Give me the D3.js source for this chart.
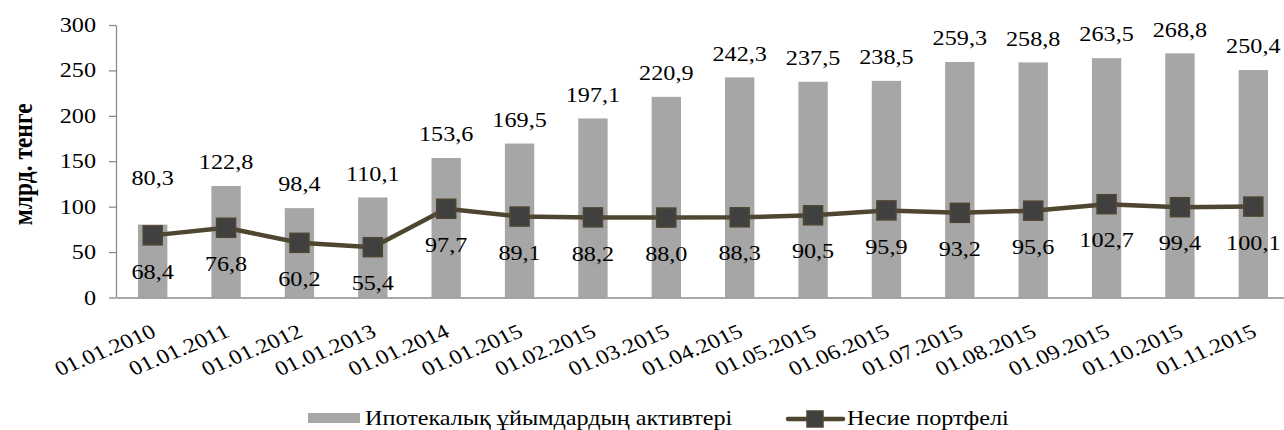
<!DOCTYPE html>
<html>
<head>
<meta charset="utf-8">
<script src="https://cdn.jsdelivr.net/npm/d3@7"></script>
</head>
<body style="margin:0; background:#fff">
<svg id="chart" width="1284" height="430"></svg>
<script>
const categories = ["01.01.2010", "01.01.2011", "01.01.2012", "01.01.2013", "01.01.2014",
  "01.01.2015", "01.02.2015", "01.03.2015", "01.04.2015", "01.05.2015", "01.06.2015",
  "01.07.2015", "01.08.2015", "01.09.2015", "01.10.2015", "01.11.2015"];
const assets = [80.3, 122.8, 98.4, 110.1, 153.6, 169.5, 197.1, 220.9, 242.3, 237.5, 238.5,
  259.3, 258.8, 263.5, 268.8, 250.4];
const loans = [68.4, 76.8, 60.2, 55.4, 97.7, 89.1, 88.2, 88.0, 88.3, 90.5, 95.9,
  93.2, 95.6, 102.7, 99.4, 100.1];
const yTicks = [0, 50, 100, 150, 200, 250, 300];
const seriesNames = ["Ипотекалық ұйымдардың активтері", "Несие портфелі"];

const barColor = "#a6a6a6";
const lineColor = "#4e4631";
const markerFill = "#404040";
const axisColor = "#8c8c8c";
const fontFamily = '"Liberation Serif", "Times New Roman", serif';
const sx = 1.18; // the original picture is a little wider than tall
const fmt = v => v.toFixed(1).replace(".", ",");

const svg = d3.select("#chart");

const x = d3.scaleBand()
  .domain(categories)
  .range([116, 1290])
  .paddingInner(0.6)
  .paddingOuter(0.3);

const y = d3.scaleLinear()
  .domain([0, 300])
  .range([297.5, 25]);

const cx = i => x(categories[i]) + x.bandwidth() / 2;

// move x/y into a transform so the text can be widened around its anchor
function widen(sel) {
  sel.each(function () {
    const t = d3.select(this);
    const tx = +t.attr("x") || 0, ty = +t.attr("y") || 0;
    t.attr("x", 0).attr("y", 0)
      .attr("transform", `translate(${tx},${ty}) scale(${sx},1)`);
  });
}

// y axis
const yAxis = svg.append("g")
  .attr("transform", `translate(${x.range()[0]},0)`)
  .call(d3.axisLeft(y).tickValues(yTicks).tickSize(7).tickPadding(13).tickSizeOuter(0));
yAxis.select(".domain").attr("stroke", axisColor).attr("stroke-width", 1.3);
yAxis.selectAll(".tick line").attr("stroke", axisColor).attr("stroke-width", 1.3);
yAxis.selectAll(".tick text").call(widen);

svg.append("text")
  .attr("transform", `translate(24,${y(150) + 3}) scale(${sx},1) rotate(-90)`)
  .attr("text-anchor", "middle")
  .attr("dy", "0.3em")
  .attr("class", "title")
  .text("млрд. тенге");

// bars
svg.append("g").selectAll("rect")
  .data(assets)
  .join("rect")
  .attr("x", (d, i) => x(categories[i]))
  .attr("y", d => y(d))
  .attr("width", x.bandwidth())
  .attr("height", d => y(0) - y(d))
  .attr("fill", barColor);

// x axis
const xAxis = svg.append("g")
  .attr("transform", `translate(0,${y(0)})`)
  .call(d3.axisBottom(x).tickSize(0).tickFormat(""));
xAxis.select(".domain").attr("stroke", axisColor).attr("stroke-width", 1.3);

svg.append("g").selectAll("text")
  .data(categories)
  .join("text")
  .attr("transform", (d, i) => `translate(${cx(i) + 1},${y(0) + 32}) scale(${sx},1) rotate(-26)`)
  .attr("text-anchor", "end")
  .attr("dy", "0.35em")
  .text(d => d);

// line
const line = d3.line()
  .x((d, i) => cx(i))
  .y(d => y(d));

svg.append("path")
  .datum(loans)
  .attr("d", line)
  .attr("fill", "none")
  .attr("stroke", lineColor)
  .attr("stroke-width", 4.5)
  .attr("stroke-linejoin", "round");

svg.append("g").selectAll("rect")
  .data(loans)
  .join("rect")
  .attr("x", (d, i) => cx(i) - 9.5)
  .attr("y", d => y(d) - 9.5)
  .attr("width", 19)
  .attr("height", 19)
  .attr("fill", markerFill)
  .attr("stroke", lineColor)
  .attr("stroke-width", 1.5);

// bar value labels (kept clear of the line markers)
svg.append("g").selectAll("text")
  .data(assets)
  .join("text")
  .attr("x", (d, i) => cx(i))
  .attr("y", (d, i) => Math.min(y(d) - 24, y(loans[i]) - 58))
  .attr("dy", "0.35em")
  .attr("text-anchor", "middle")
  .text(d => fmt(d))
  .call(widen);

// line value labels
svg.append("g").selectAll("text")
  .data(loans)
  .join("text")
  .attr("x", (d, i) => cx(i))
  .attr("y", d => y(d) + 36)
  .attr("dy", "0.35em")
  .attr("text-anchor", "middle")
  .text(d => fmt(d))
  .call(widen);

// legend
const legend = svg.append("g");
legend.append("rect")
  .attr("x", 308).attr("y", 413)
  .attr("width", 52).attr("height", 10)
  .attr("fill", barColor);
legend.append("text")
  .attr("x", 365).attr("y", 418)
  .attr("dy", "0.35em")
  .text(seriesNames[0]);

legend.append("line")
  .attr("x1", 788).attr("x2", 843)
  .attr("y1", 419).attr("y2", 419)
  .attr("stroke", lineColor)
  .attr("stroke-width", 4.5)
  .attr("stroke-linecap", "round");
legend.append("rect")
  .attr("x", 807).attr("y", 411)
  .attr("width", 16).attr("height", 16)
  .attr("fill", markerFill)
  .attr("stroke", lineColor)
  .attr("stroke-width", 1.5);
legend.append("text")
  .attr("x", 847).attr("y", 418)
  .attr("dy", "0.35em")
  .text(seriesNames[1]);
legend.selectAll("text").call(widen);

// same serif face for every text
svg.selectAll("text")
  .style("font-family", fontFamily)
  .style("font-size", "20.5px")
  .attr("fill", "#000");
svg.select("text.title")
  .style("font-size", "23.5px")
  .style("font-weight", "bold");
</script>
</body>
</html>
